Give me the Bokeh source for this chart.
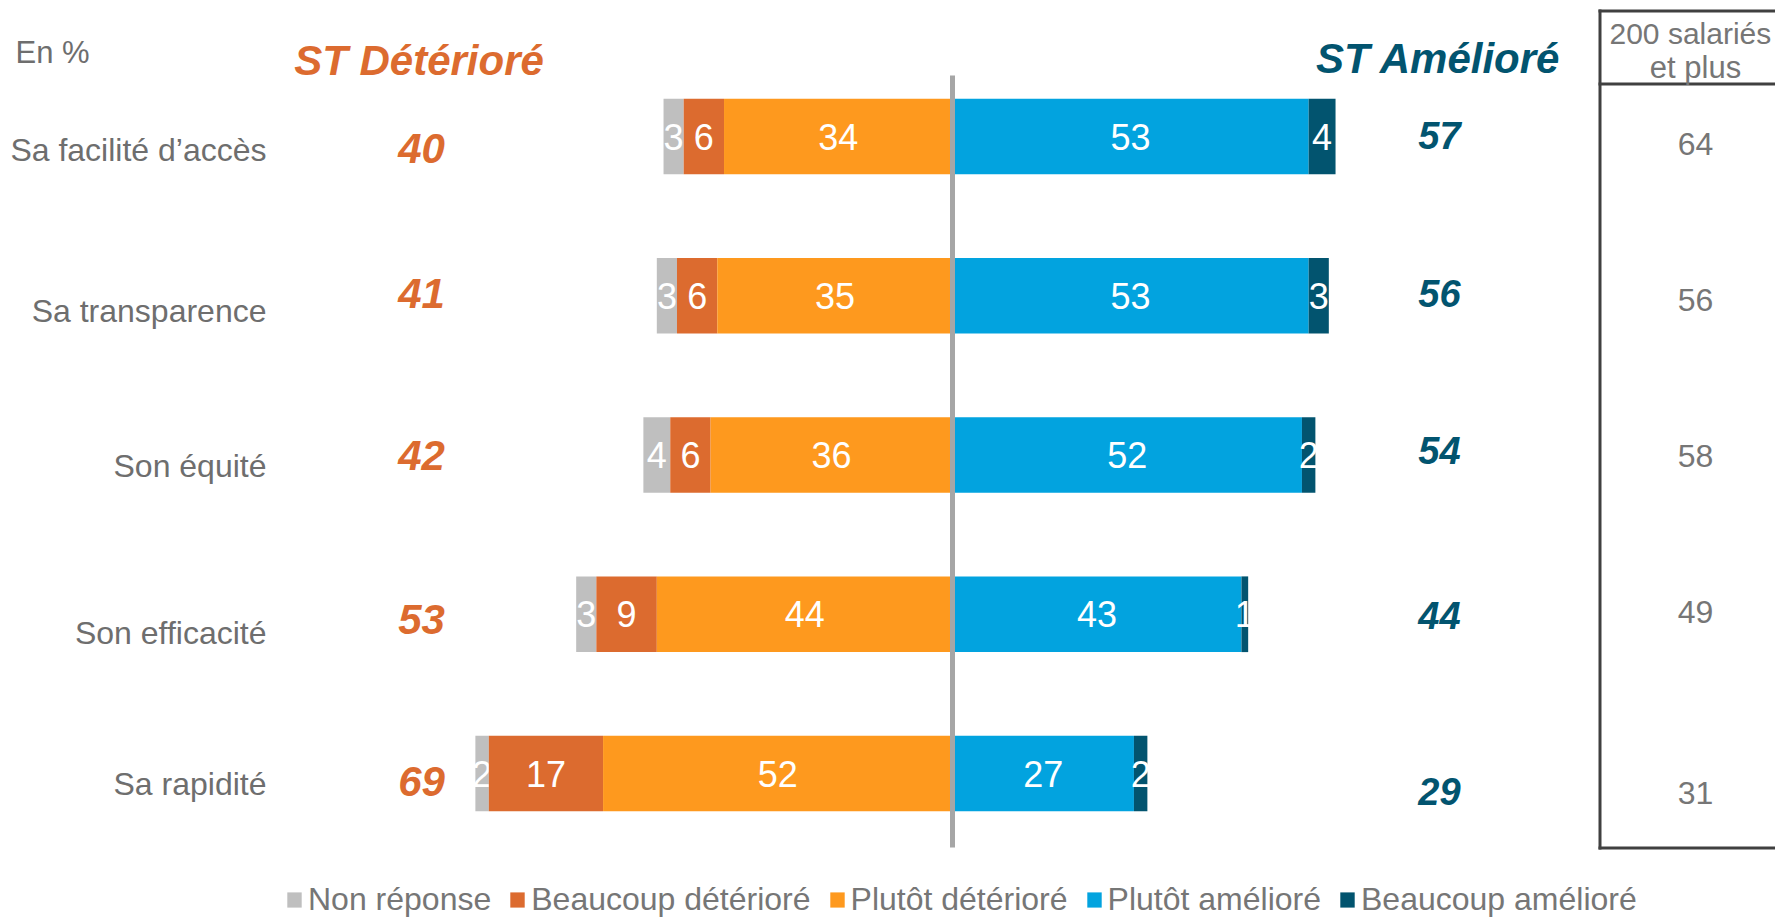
from bokeh.plotting import figure
from bokeh.models import Range1d, Label, Legend, LegendItem, ColumnDataSource
from bokeh.core.properties import value
from bokeh.embed import file_html
from bokeh.resources import INLINE

# ---------------- data ----------------
categories = ["Sa facilité d’accès", "Sa transparence", "Son équité", "Son efficacité", "Sa rapidité"]
non_reponse = [3, 3, 4, 3, 2]
beaucoup_deteriore = [6, 6, 6, 9, 17]
plutot_deteriore = [34, 35, 36, 44, 52]
plutot_ameliore = [53, 53, 52, 43, 27]
beaucoup_ameliore = [4, 3, 2, 1, 2]
st_deteriore = [40, 41, 42, 53, 69]
st_ameliore = [57, 56, 54, 44, 29]
plus_200_salaries = [64, 56, 58, 49, 31]
series_names = ["Non réponse", "Beaucoup détérioré", "Plutôt détérioré", "Plutôt amélioré", "Beaucoup amélioré"]
header_left = "ST Détérioré"
header_right = "ST Amélioré"
table_header = ["200 salariés", "et plus"]
unit_label = "En %"

# ---------------- style / layout ----------------
FONT_NAME = "Liberation Sans"
FONT = value(FONT_NAME)
COLORS = ["#BFBFBF", "#DC6B2F", "#FE991E", "#02A3DF", "#02546F"]
ORANGE_TXT = "#DC6B2F"
BLUE_TXT = "#02546F"
GRAY_TXT = "#6E6E6E"
TABLE_TXT = "#767676"
W, H = 1775, 918
PXU = 6.72        # pixels per percentage point
ROW = 159.25      # pixels between rows
ZERO_X = 952      # px of the 0 line
ROW0_Y = 136      # px (from top) of first row centre
BAR_H = 75.7 / ROW


def X(px):
    return (px - ZERO_X) / PXU


def Y(py):
    return -(py - ROW0_Y) / ROW


# per-row vertical nudges (px, positive = down)
cat_nudge = [13, 15, 11, 19, 10]
left_nudge = [12, -2, 0, 5, 8]
right_nudge = [-1, -2, -5, 1, 18]
table_nudge = [7, 4, 1, -2, 19]

n = len(categories)
ypos = [-i for i in range(n)]

# stacked extents
pd_l = [-v for v in plutot_deteriore]
pd_r = [0] * n
bd_r = pd_l
bd_l = [a - b for a, b in zip(bd_r, beaucoup_deteriore)]
nr_r = bd_l
nr_l = [a - b for a, b in zip(nr_r, non_reponse)]
pa_l = [0] * n
pa_r = list(plutot_ameliore)
ba_l = pa_r
ba_r = [a + b for a, b in zip(ba_l, beaucoup_ameliore)]

segments = [
    (nr_l, nr_r, non_reponse),
    (bd_l, bd_r, beaucoup_deteriore),
    (pd_l, pd_r, plutot_deteriore),
    (pa_l, pa_r, plutot_ameliore),
    (ba_l, ba_r, beaucoup_ameliore),
]

p = figure(width=W, height=H, x_range=Range1d(X(0), X(W)), y_range=Range1d(Y(H), Y(0)),
           x_axis_type=None, y_axis_type=None, toolbar_location=None,
           output_backend="svg", min_border=0)
p.outline_line_color = None
p.background_fill_color = "white"
p.border_fill_color = "white"

renderers = []
for (lft, rgt, vals), col in zip(segments, COLORS):
    src = ColumnDataSource(dict(y=ypos, left=lft, right=rgt,
                                mid=[(a + b) / 2 for a, b in zip(lft, rgt)],
                                lab=[str(v) for v in vals]))
    r = p.hbar(y="y", left="left", right="right", height=BAR_H, source=src,
               fill_color=col, line_color=None)
    renderers.append(r)
    p.text(x="mid", y="y", text="lab", source=src, text_font=FONT, text_font_size="36px",
           text_color="white", text_align="center", text_baseline="middle")

# centre line
p.segment(x0=[0], y0=[Y(75)], x1=[0], y1=[Y(847)], line_color="#A6A6A6", line_width=5)

# category labels
p.text(x=[X(266)] * n, y=[y - d / ROW for y, d in zip(ypos, cat_nudge)], text=categories,
       text_font=FONT, text_font_size="32px", text_color=GRAY_TXT,
       text_align="right", text_baseline="middle")

# ST totals
p.text(x=[X(421)] * n, y=[y - d / ROW for y, d in zip(ypos, left_nudge)],
       text=[str(v) for v in st_deteriore], text_font=FONT, text_font_size="42px",
       text_font_style="bold italic", text_color=ORANGE_TXT,
       text_align="center", text_baseline="middle")
p.text(x=[X(1439)] * n, y=[y - d / ROW for y, d in zip(ypos, right_nudge)],
       text=[str(v) for v in st_ameliore], text_font=FONT, text_font_size="38px",
       text_font_style="bold italic", text_color=BLUE_TXT,
       text_align="center", text_baseline="middle")

# table values
p.text(x=[X(1695)] * n, y=[y - d / ROW for y, d in zip(ypos, table_nudge)],
       text=[str(v) for v in plus_200_salaries], text_font=FONT, text_font_size="32px",
       text_color=TABLE_TXT, text_align="center", text_baseline="middle")

# table frame
tl = "#404040"
p.segment(x0=[X(1599.5)], y0=[Y(9)], x1=[X(1599.5)], y1=[Y(849)], line_color=tl, line_width=3)
p.segment(x0=[X(1598)] * 3, y0=[Y(10.5), Y(83.5), Y(847.5)],
          x1=[X(W)] * 3, y1=[Y(10.5), Y(83.5), Y(847.5)], line_color=tl, line_width=3)

# headers (text centred vertically on the given y)
def add_label(x, y, text, size, color, align="center", style="normal"):
    p.add_layout(Label(x=X(x), y=Y(y), text=text, text_font=FONT_NAME, text_font_size=size,
                       text_font_style=style, text_color=color,
                       text_align=align, text_baseline="middle"))


add_label(418.5, 60, header_left, "42px", ORANGE_TXT, style="bold italic")
add_label(1438, 58, header_right, "42px", BLUE_TXT, style="bold italic")
add_label(15, 52, unit_label, "31px", GRAY_TXT, align="left")
add_label(1609, 33, table_header[0], "30px", TABLE_TXT, align="left")
add_label(1695, 67, table_header[1], "31px", TABLE_TXT)

# legend
legend = Legend(items=[LegendItem(label=nm, renderers=[r]) for nm, r in zip(series_names, renderers)],
                orientation="horizontal", location=(285, 0), glyph_width=18, glyph_height=19,
                label_standoff=5, spacing=17, padding=0, margin=0,
                border_line_color=None, background_fill_alpha=0,
                label_text_font=FONT_NAME, label_text_font_size="32px", label_text_color="#767676")
p.add_layout(legend)

open("out.html", "w").write(file_html(p, INLINE))
